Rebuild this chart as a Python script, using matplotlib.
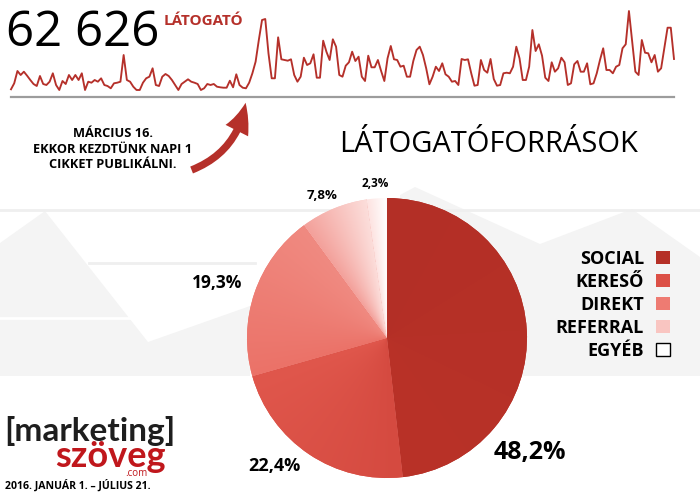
import numpy as np
import matplotlib
matplotlib.use('Agg')
import matplotlib.pyplot as plt
from matplotlib.patches import Polygon, FancyArrowPatch, Patch
from matplotlib.colors import to_rgb

# napi látogatók 2016.01.01 - 07.21 (a képről becsülve)
visitors = [
    77, 137, 260, 220, 253, 213, 170, 130, 110, 210, 130, 120, 153, 237, 120, 70,
    160, 130, 220, 170, 220, 170, 237, 70, 153, 143, 170, 153, 187, 120, 110, 87,
    137, 143, 153, 420, 170, 153, 103, 70, 70, 143, 187, 203, 287, 120, 110, 203,
    230, 210, 170, 120, 70,
    130, 153, 177, 153, 143, 130, 70, 87, 130, 120, 130, 103, 97, 93, 93, 163,
    97, 227, 120, 93, 87, 143, 237, 353, 570, 770, 780, 437, 187, 187, 597, 377,
    370, 363, 377, 220, 153, 203, 393, 320, 337, 427, 193, 193, 563, 453, 370, 577,
    503, 220, 203,
    313, 347, 453, 360, 403, 203, 160, 413, 297, 297, 370, 260, 160, 387, 510, 377,
    370, 303, 313, 203, 203, 360, 470, 503, 420, 287, 127, 203, 303, 260, 337, 227,
    203, 153, 160, 120, 380, 370, 377, 237, 113, 120, 370, 270, 243, 380, 180, 113,
    120, 237, 243,
    237, 303, 503, 387, 170, 170, 303, 670, 460, 527, 413, 193, 160, 347, 253, 287,
    393, 347, 120, 137, 327, 360, 253, 253, 337, 127, 137, 237, 370, 487, 270, 270,
    237, 303, 320, 487, 527, 860, 553, 253, 220, 570, 443, 437, 347, 420, 253, 287,
    493, 693, 693, 380,
]
total_text = '62 626'

sources = ['SOCIAL', 'KERESŐ', 'DIREKT', 'REFERRAL', 'EGYÉB']
shares = [48.2, 22.4, 19.3, 7.8, 2.3]
share_labels = ['48,2%', '22,4%', '19,3%', '7,8%', '2,3%']
colors = ['#b53027', '#dc5046', '#ee7b72', '#f9c5c1', '#ffffff']
# színátmenet a cikkeken belül (óramutató járása szerint)
grad_from = ['#b32f26', '#d54a40', '#eb7268', '#f3a09a', '#fde3e1']
grad_to = ['#b93228', '#e0574c', '#f08a81', '#fcdedb', '#ffffff']

RED = '#b5302a'
FONT = ['Open Sans', 'DejaVu Sans']
LOGO = ['Lato', 'DejaVu Sans']

fig = plt.figure(figsize=(7, 5), dpi=100)

# háttér (szürke hegyek)
bg = fig.add_axes([0, 0, 1, 1], zorder=-5)
bg.set_xlim(0, 700)
bg.set_ylim(500, 0)
bg.axis('off')
bg.add_patch(Polygon([(0, 243), (45, 211), (148, 342), (250, 306), (250, 376), (0, 376)],
                     closed=True, facecolor='#f4f4f4', edgecolor='none'))
bg.add_patch(Polygon([(400, 376), (400, 195), (415, 187), (540, 244), (632, 209),
                      (700, 257), (700, 376)],
                     closed=True, facecolor='#f4f4f4', edgecolor='none'))
bg.plot([0, 700], [210, 210], color='#efefef', lw=2)
bg.plot([89, 255], [263, 263], color='#efefef', lw=2)
bg.plot([0, 147], [318, 318], color='white', lw=2)

# vonaldiagram
ax = fig.add_axes([11 / 700, 1 - 97 / 500, 663 / 700, 86 / 500])
x = np.arange(len(visitors))
ax.plot(x, visitors, color=RED, lw=1.35, clip_on=False)
ax.set_xlim(0, len(visitors) - 1)
ax.set_ylim(0, 860)
ax.set_xticks([])
ax.set_yticks([])
for s in ['top', 'left', 'right']:
    ax.spines[s].set_visible(False)
ax.spines['bottom'].set_color('#9c9c9c')
ax.spines['bottom'].set_linewidth(1.6)
ax.patch.set_alpha(0)

fig.text(6 / 700, 1 - 46 / 500, total_text, fontsize=35.5, family=FONT, color='black',
         va='baseline', ha='left')
fig.text(164 / 700, 1 - 25 / 500, 'LÁTOGATÓ', fontsize=11, family=FONT, color=RED,
         va='baseline', ha='left', weight='bold')

# megjegyzés + nyíl
fig.text(113 / 700, 1 - 168 / 500, 'MÁRCIUS 16.\nEKKOR KEZDTÜNK NAPI 1\nCIKKET PUBLIKÁLNI.',
         fontsize=9.2, family=FONT, weight='bold', ha='center', va='baseline',
         linespacing=1.25, multialignment='center')
arrow = FancyArrowPatch((189 / 700, 1 - 171 / 500), (246 / 700, 1 - 100 / 500),
                        transform=fig.transFigure, connectionstyle='arc3,rad=0.3',
                        arrowstyle='simple,head_length=1.5,head_width=1.3,tail_width=0.38',
                        mutation_scale=14, color=RED, lw=0)
fig.patches.append(arrow)

# cím
fig.text(339 / 700, 1 - 152 / 500, 'LÁTOGATÓFORRÁSOK', fontsize=21, family=FONT,
         va='baseline', ha='left', weight='medium')

# kördiagram
axp = fig.add_axes([237 / 700, 12 / 500, 300 / 700, 300 / 500])
wedges, _ = axp.pie(shares, colors=colors, startangle=90, counterclock=False,
                    radius=140 / 150, wedgeprops=dict(linewidth=0))

g = np.linspace(-1, 1, 500)
X, Y = np.meshgrid(g, g)
ang = np.degrees(np.arctan2(Y, X))
for w, c0, c1 in zip(wedges, grad_from, grad_to):
    a = (ang - w.theta1) % 360 + w.theta1
    t = np.clip((w.theta2 - a) / (w.theta2 - w.theta1), 0, 1)[..., None]
    img = np.array(to_rgb(c0)) * (1 - t) + np.array(to_rgb(c1)) * t
    im = axp.imshow(img, extent=(-1, 1, -1, 1), origin='lower', interpolation='bilinear',
                    zorder=w.get_zorder() + 0.1)
    im.set_clip_path(w)
axp.set_xlim(-1, 1)
axp.set_ylim(-1, 1)
axp.axis('off')

label_pos = [(0.953, -0.76), (-0.753, -0.853), (-1.133, 0.367), (-0.433, 0.947), (-0.08, 1.027)]
label_size = [18, 13, 12.5, 9.5, 8.5]
for lab, (lx, ly), fs in zip(share_labels, label_pos, label_size):
    axp.text(lx, ly, lab, fontsize=fs, family=FONT, weight='bold',
             ha='center', va='center', zorder=10)

handles = [Patch(facecolor=c, edgecolor='black' if c == '#ffffff' else 'none', lw=1)
           for c in colors]
fig.legend(handles, sources, loc='upper right', bbox_to_anchor=(670 / 700, 1 - 250 / 500),
           frameon=False, markerfirst=False, handlelength=0.75,
           handleheight=0.75, handletextpad=0.7, labelspacing=0.27, borderpad=0,
           borderaxespad=0, prop={'family': FONT, 'weight': 'bold', 'size': 13})

# logó
fig.text(4 / 700, 1 - 441 / 500, '[marketing]', fontsize=24, family=LOGO, weight='bold',
         color='#1e1e1e', va='baseline', ha='left')
fig.text(166 / 700, 1 - 467 / 500, 'szöveg', fontsize=26, family=LOGO,
         weight='bold', color='#c0171c', va='baseline', ha='right')
fig.text(148 / 700, 1 - 476 / 500, '.com', fontsize=7, family=FONT,
         color='#c0171c', va='baseline', ha='right')
fig.text(5 / 700, 1 - 489 / 500, '2016. JANUÁR 1. – JÚLIUS 21.', fontsize=7.6, family=FONT,
         weight='bold', va='baseline', ha='left')

fig.savefig('out.png', dpi=100)
